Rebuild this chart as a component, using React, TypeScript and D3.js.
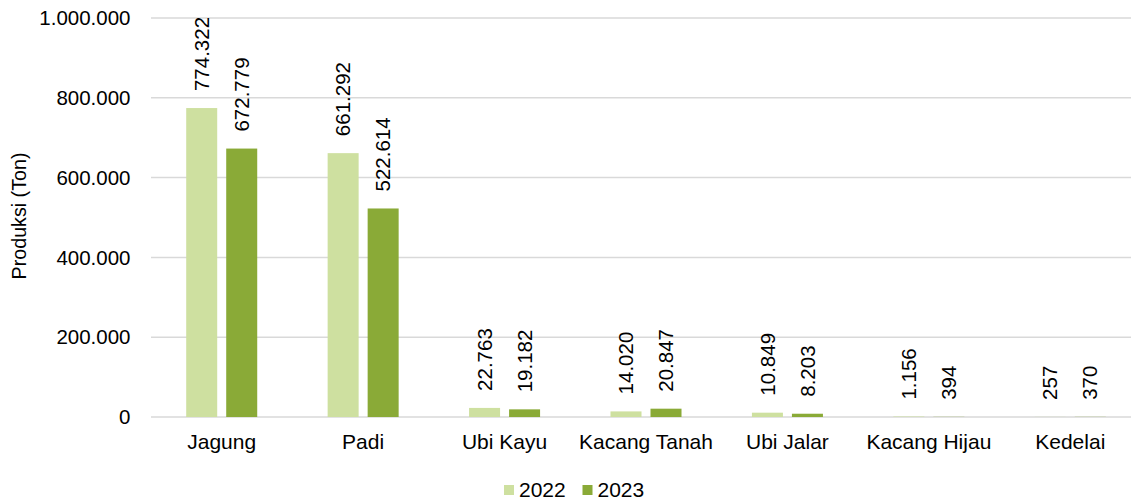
import React from "react";
import * as d3 from "d3";

const categories = ["Jagung", "Padi", "Ubi Kayu", "Kacang Tanah", "Ubi Jalar", "Kacang Hijau", "Kedelai"];
const seriesNames = ["2022", "2023"];
const values2022 = [774322, 661292, 22763, 14020, 10849, 1156, 257];
const values2023 = [672779, 522614, 19182, 20847, 8203, 394, 370];
const yTicks = [0, 200000, 400000, 600000, 800000, 1000000];
const seriesColors = ["#cee0a0", "#8aaa37"];

const W = 1131;
const H = 502;
const FONT = "'Liberation Sans', Arial, sans-serif";

const locale = d3.formatLocale({ decimal: ",", thousands: ".", grouping: [3], currency: ["", ""] });
const fmt = locale.format(",d");

export default function App() {
  const x = d3.scaleBand<string>().domain(categories).range([151, 1141]);
  const x1 = d3
    .scaleBand<string>()
    .domain(seriesNames)
    .range([0, x.bandwidth()])
    .paddingInner(0.225)
    .paddingOuter(0.88);
  const y = d3.scaleLinear().domain([0, 1000000]).range([417, 18]);
  const series = [values2022, values2023];

  return (
    <svg
      width={W}
      height={H}
      style={{ position: "absolute", left: 0, top: 0, background: "#fff" }}
      fontFamily={FONT}
    >
      {yTicks.map((t) => (
        <g key={t}>
          <line x1={151} x2={W} y1={y(t)} y2={y(t)} stroke="#d9d9d9" strokeWidth={1.5} />
          <text x={130.5} y={y(t)} dy="0.35em" textAnchor="end" fontSize={20.5} fill="#000">
            {fmt(t)}
          </text>
        </g>
      ))}
      <text
        transform={`translate(26,216) rotate(-90)`}
        textAnchor="middle"
        fontSize={19.7}
        fill="#000"
      >
        Produksi (Ton)
      </text>
      {categories.map((c, i) => (
        <g key={c} transform={`translate(${x(c)},0)`}>
          {seriesNames.map((s, j) => {
            const v = series[j][i];
            const bx = x1(s)!;
            const bw = x1.bandwidth();
            return (
              <g key={s}>
                <rect x={bx} y={y(v)} width={bw} height={y(0) - y(v)} fill={seriesColors[j]} />
                <text
                  transform={`translate(${bx + bw / 2},${y(v) - 17}) rotate(-90)`}
                  dy="0.35em"
                  textAnchor="start"
                  fontSize={20.5}
                  fill="#000"
                >
                  {fmt(v)}
                </text>
              </g>
            );
          })}
          <text x={x.bandwidth() / 2} y={449} textAnchor="middle" fontSize={21} fill="#000">
            {c}
          </text>
        </g>
      ))}
      {seriesNames.map((s, j) => (
        <g key={s} transform={`translate(${504 + j * 78.5},485)`}>
          <rect x={0} y={0} width={10} height={10} fill={seriesColors[j]} />
          <text x={15} y={11.7} fontSize={21} fill="#000">
            {s}
          </text>
        </g>
      ))}
    </svg>
  );
}
